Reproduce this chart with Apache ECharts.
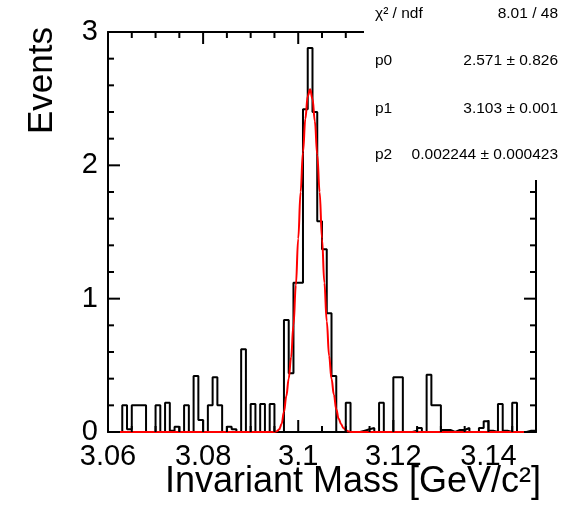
<!DOCTYPE html>
<html><head><meta charset="utf-8">
<script src="https://cdn.jsdelivr.net/npm/echarts@6/dist/echarts.min.js"></script>
<style>html,body{margin:0;padding:0;background:#fff}#c{width:578px;height:515px}</style>
</head><body><div id="c"></div>
<script>
// Histogram binning (90 bins of 0.001 from 3.06 to 3.15)
const histMin = 3.06;
const histMax = 3.15;
const binWidth = 0.001;
// Bin contents
const counts = [
  0, 0, 0, 0.20, 0.02, 0.20, 0.20, 0.20, 0, 0,
  0.20, 0, 0.22, 0.01, 0.04, 0, 0.20, 0, 0.42, 0.09,
  0, 0.20, 0.41, 0.20, 0, 0.04, 0.02, 0, 0.62, 0,
  0.21, 0, 0.21, 0, 0.21, 0, 0, 0.84, 0.44, 1.12,
  1.12, 2.42, 2.88, 2.40, 1.58, 1.37, 0.89, 0.42, 0, 0,
  0.22, 0, 0, 0.01, 0.02, 0.03, 0, 0.22, 0, 0,
  0.41, 0.41, 0, 0, 0.01, 0.03, 0, 0.43, 0.20, 0.20,
  0.015, 0.015, 0, 0.015, 0.015, 0.03, 0, 0, 0.03, 0.08,
  0.01, 0, 0.21, 0.01, 0, 0.22, 0, 0, 0.01, 0.01
];
// Fit curve
const fitX = [3.06, 3.095, 3.0955, 3.096, 3.0965, 3.097, 3.0975, 3.098, 3.0985, 3.099, 3.0995,
  3.1, 3.1005, 3.101, 3.1015, 3.102, 3.1025, 3.103, 3.1035, 3.104, 3.1045, 3.105, 3.1055,
  3.106, 3.1065, 3.107, 3.1075, 3.108, 3.1085, 3.109, 3.1095, 3.11, 3.1105, 3.111, 3.15];
const fitY = [0, 0, 0.005, 0.02, 0.06, 0.15, 0.27, 0.40, 0.56, 0.80, 1.10,
  1.45, 1.80, 2.10, 2.35, 2.52, 2.57, 2.50, 2.33, 2.08, 1.80, 1.45, 1.12,
  0.83, 0.57, 0.40, 0.28, 0.17, 0.10, 0.06, 0.03, 0.015, 0.005, 0, 0];
const yMin = 0, yMax = 3;
// Tick positions
const xMajorTicks = [3.06, 3.08, 3.10, 3.12, 3.14];
const xMinorTicks = [3.065, 3.07, 3.075, 3.085, 3.09, 3.095, 3.105, 3.11, 3.115, 3.125, 3.13, 3.135, 3.145];
const yMajorTicks = [0, 1, 2, 3];
const yMinorTicks = [0.2, 0.4, 0.6, 0.8, 1.2, 1.4, 1.6, 1.8, 2.2, 2.4, 2.6, 2.8];
const xTitle = 'Invariant Mass [GeV/c\u00B2]';
const yTitle = 'Events';
const statLabels = ['\u03C7\u00B2 / ndf', 'p0', 'p1', 'p2'];
const statValues = ['8.01 / 48', '2.571 \u00B1 0.826', '3.103 \u00B1 0.001', '0.002244 \u00B1 0.000423'];

const font = '"Liberation Sans", Arial, Helvetica, sans-serif';
const histData = counts.map((v, i) => [histMin + i * binWidth, v]);
histData.push([histMin + counts.length * binWidth, counts[counts.length - 1]]);
const fitData = fitX.map((x, i) => [x, fitY[i]]);

function ax(kind, pos, interval, labels) {
  return {
    type: 'value', position: pos,
    min: kind === 'x' ? histMin : yMin, max: kind === 'x' ? histMax : yMax, interval: interval,
    axisLine: { show: true, onZero: false, lineStyle: { color: '#000', width: 2 } },
    axisTick: { show: false },
    axisLabel: { show: labels, fontSize: 29, color: '#000', fontFamily: font, margin: 10, showMaxLabel: kind === 'y' },
    splitLine: { show: false }
  };
}

// Inward tick marks placed through the axes' own scales
function tickSeries(kind, side, values, len) {
  const data = values.map(v => kind === 'x'
    ? [v, side === 'bottom' ? yMin : yMax]
    : [side === 'left' ? histMin : histMax, v]);
  return {
    type: 'custom', xAxisIndex: 0, yAxisIndex: 0, silent: true, z: 5, clip: false,
    data: data,
    renderItem: function (params, api) {
      const p = api.coord([api.value(0), api.value(1)]);
      let q;
      if (kind === 'x') q = [p[0], p[1] + (side === 'bottom' ? -len : len)];
      else q = [p[0] + (side === 'left' ? len : -len), p[1]];
      return { type: 'line', shape: { x1: p[0], y1: p[1], x2: q[0], y2: q[1] },
        style: { stroke: '#000', lineWidth: 2 } };
    }
  };
}

const graphics = [
  { type: 'rect', shape: { x: 364, y: 0, width: 214, height: 180 }, style: { fill: '#fff' }, z: 100 },
  { type: 'text', x: 42, y: 27, rotation: Math.PI / 2, z: 101,
    style: { text: yTitle, fontSize: 35, fontFamily: font, fill: '#000', align: 'right', verticalAlign: 'middle' } },
  { type: 'text', x: 541, y: 482, z: 101,
    style: { text: xTitle, fontSize: 36, fontFamily: font, fill: '#000', align: 'right', verticalAlign: 'middle' } }
];
const rowY = [13.5, 61, 108.5, 155];
statLabels.forEach((t, i) => {
  graphics.push({ type: 'text', x: 375, y: rowY[i], z: 101,
    style: { text: t, fontSize: 15.5, fontFamily: font, fill: '#000', align: 'left', verticalAlign: 'middle' } });
  graphics.push({ type: 'text', x: 558, y: rowY[i], z: 101,
    style: { text: statValues[i], fontSize: 15.5, fontFamily: font, fill: '#000', align: 'right', verticalAlign: 'middle' } });
});

const chart = echarts.init(document.getElementById('c'), null, { renderer: 'canvas' });
chart.setOption({
  animation: false,
  backgroundColor: '#fff',
  grid: { left: 108, right: 42, top: 32, bottom: 83 },
  xAxis: [ax('x', 'bottom', 0.02, true), ax('x', 'top', 0.02, false)],
  yAxis: [ax('y', 'left', 1, true), ax('y', 'right', 1, false)],
  series: [
    { type: 'line', xAxisIndex: 0, yAxisIndex: 0, data: histData, step: 'end', showSymbol: false,
      lineStyle: { color: '#000', width: 2 }, z: 3 },
    { type: 'line', xAxisIndex: 0, yAxisIndex: 0, data: fitData, smooth: 0.4, smoothMonotone: 'x', showSymbol: false,
      lineStyle: { color: '#ff0000', width: 2 }, z: 4 },
    tickSeries('x', 'bottom', xMajorTicks, 12),
    tickSeries('x', 'bottom', xMinorTicks, 6),
    tickSeries('x', 'top', xMajorTicks, 12),
    tickSeries('x', 'top', xMinorTicks, 6),
    tickSeries('y', 'left', yMajorTicks, 12),
    tickSeries('y', 'left', yMinorTicks, 6),
    tickSeries('y', 'right', yMajorTicks, 12),
    tickSeries('y', 'right', yMinorTicks, 6)
  ],
  graphic: graphics
});
</script></body></html>
